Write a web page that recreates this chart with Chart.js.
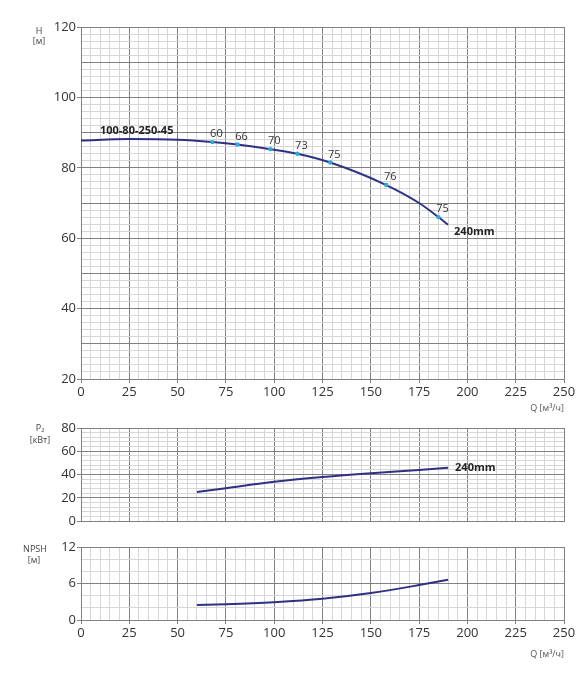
<!DOCTYPE html>
<html>
<head>
<meta charset="utf-8">
<script src="https://cdn.jsdelivr.net/npm/chart.js@4.4.1/dist/chart.umd.min.js"></script>
<style>
  body { margin: 0; background: #fff; width: 586px; height: 697px; position: relative; overflow: hidden; }
  .box { position: absolute; left: 0; width: 586px; }
</style>
</head>
<body>
<div class="box" style="top:0;height:400px"><canvas id="head"></canvas></div>
<div class="box" style="top:400px;height:130px"><canvas id="power"></canvas></div>
<div class="box" style="top:530px;height:167px"><canvas id="npsh"></canvas></div>
<script>
// Q-H curve, 240mm impeller
const headQ = [0, 25, 50, 68, 81, 98, 112, 129, 158, 175, 185, 190];
const headH = [87.75, 88.15, 87.95, 87.3, 86.6, 85.3, 84.0, 81.5, 75.1, 70.0, 66.0, 63.8];

// efficiency marks on the curve
const effQ = [68, 81, 98, 112, 129, 158, 185];
const effH = [87.3, 86.6, 85.3, 84.0, 81.5, 75.1, 66.0];
const effLabels = ['60', '66', '70', '73', '75', '76', '75'];

// power P2, kW
const powerQ = [60, 75, 100, 125, 150, 175, 190];
const powerP = [25.0, 28.3, 33.8, 37.9, 41.2, 44.0, 45.9];

// NPSH, m
const npshQ = [60, 75, 100, 125, 150, 175, 190];
const npshM = [2.48, 2.6, 2.93, 3.48, 4.42, 5.74, 6.62];

const modelName = '100-80-250-45';
const impeller = '240mm';

const MAJOR = '#808080';
const MINOR = '#d6d6d6';
const CURVE = '#2f3183';
const FONT = 'Open Sans';
const NONE = 'rgba(0,0,0,0)';

const pts = (xs, ys) => xs.map((q, i) => ({ x: q, y: ys[i] }));

const notes = {
  id: 'notes',
  afterDatasetsDraw(chart, args, opts) {
    const { ctx, scales: { x, y } } = chart;
    ctx.save();
    ctx.textBaseline = 'middle';
    (opts.items || []).forEach(it => {
      ctx.font = it.font;
      ctx.fillStyle = it.color || '#333';
      ctx.textAlign = it.align || 'left';
      const px = it.q != null ? x.getPixelForValue(it.q) + (it.dx || 0) : it.px;
      const py = it.v != null ? y.getPixelForValue(it.v) + (it.dy || 0) : it.py;
      ctx.fillText(it.text, px, py);
    });
    ctx.restore();
  }
};

function xScale(showLabels, height) {
  return {
    type: 'linear', min: 0, max: 250,
    ticks: {
      stepSize: 5, autoSkip: false, maxRotation: 0, display: showLabels, padding: 1,
      color: '#333', font: { family: FONT, size: 13 },
      callback: v => v % 25 === 0 ? v : ''
    },
    grid: {
      color: c => c.tick.value % 25 === 0 ? MAJOR : MINOR,
      drawTicks: showLabels, tickLength: 4,
      tickColor: c => c.tick.value % 25 === 0 ? MAJOR : NONE
    },
    border: { color: MAJOR },
    afterFit: s => { s.height = height; }
  };
}

function yScale(min, max, step, labelEvery, majorEvery) {
  return {
    min: min, max: max,
    ticks: {
      stepSize: step, autoSkip: false, padding: 1,
      color: '#333', font: { family: FONT, size: 13 },
      callback: v => v % labelEvery === 0 ? v : ''
    },
    grid: {
      color: c => c.tick.value % majorEvery === 0 ? MAJOR : MINOR,
      tickLength: 4,
      tickColor: c => c.tick.value % labelEvery === 0 ? MAJOR : NONE
    },
    border: { color: MAJOR },
    afterFit: s => { s.width = 81; }
  };
}

function baseOptions(top, xs, ys, items) {
  return {
    responsive: true, maintainAspectRatio: false, animation: false,
    layout: { padding: { top: top, right: 22, left: 0, bottom: 0 } },
    scales: { x: xs, y: ys },
    plugins: { legend: { display: false }, tooltip: { enabled: false }, notes: { items: items } }
  };
}

const small = '9px ' + FONT;
const bold = 'bold 11px ' + FONT;

// head chart
const headItems = effLabels.map((t, i) => ({
  text: t, q: effQ[i], v: effH[i], dx: 4, dy: -8, align: 'center', font: '11px ' + FONT, color: '#333'
}));
headItems.push(
  { text: modelName, q: 9.8, v: 90.6, font: bold, color: '#222' },
  { text: impeller, q: headQ[headQ.length - 1], v: headH[headH.length - 1], dx: 6, dy: 7, font: bold, color: '#222' },
  { text: 'H', px: 39, py: 31, align: 'center', font: small, color: '#444' },
  { text: '[м]', px: 39, py: 41, align: 'center', font: small, color: '#444' }
);

new Chart(document.getElementById('head'), {
  type: 'scatter',
  data: {
    datasets: [
      { data: pts(effQ, effH), pointRadius: 2.2, pointBackgroundColor: '#2aa9df', pointBorderWidth: 0, showLine: false },
      { data: pts(headQ, headH), showLine: true, borderColor: CURVE, borderWidth: 2, pointRadius: 0, cubicInterpolationMode: 'monotone' }
    ]
  },
  options: baseOptions(27, xScale(true, 21), yScale(20, 120, 2, 20, 10), headItems),
  plugins: [notes]
});

// the Q label under the head chart sits at the top of the power canvas
new Chart(document.getElementById('power'), {
  type: 'scatter',
  data: {
    datasets: [
      { data: pts(powerQ, powerP), showLine: true, borderColor: CURVE, borderWidth: 2, pointRadius: 0, cubicInterpolationMode: 'monotone' }
    ]
  },
  options: baseOptions(28, xScale(false, 5), yScale(0, 80, 4, 20, 20), [
    { text: impeller, q: powerQ[powerQ.length - 1], v: powerP[powerP.length - 1], dx: 7, dy: 0, font: bold, color: '#222' },
    { text: 'Q [м³/ч]', px: 564, py: 8, align: 'right', font: small, color: '#555' },
    { text: 'P₂', px: 40, py: 28, align: 'center', font: small, color: '#444' },
    { text: '[кВт]', px: 40, py: 40, align: 'center', font: small, color: '#444' }
  ]),
  plugins: [notes]
});

new Chart(document.getElementById('npsh'), {
  type: 'scatter',
  data: {
    datasets: [
      { data: pts(npshQ, npshM), showLine: true, borderColor: CURVE, borderWidth: 2, pointRadius: 0, cubicInterpolationMode: 'monotone' }
    ]
  },
  options: baseOptions(17, xScale(true, 77), yScale(0, 12, 2, 6, 6), [
    { text: 'Q [м³/ч]', px: 564, py: 124, align: 'right', font: small, color: '#555' },
    { text: 'NPSH', px: 35, py: 19, align: 'center', font: small, color: '#444' },
    { text: '[м]', px: 34, py: 30, align: 'center', font: small, color: '#444' }
  ]),
  plugins: [notes]
});
</script>
</body>
</html>
